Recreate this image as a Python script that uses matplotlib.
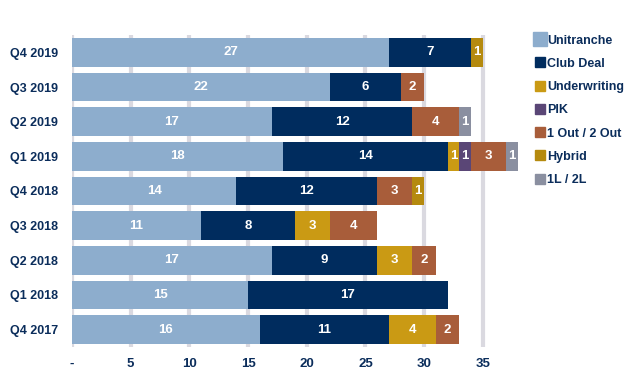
import matplotlib
matplotlib.use("Agg")
import matplotlib.pyplot as plt
from matplotlib.lines import Line2D
import numpy as np

plt.rcParams['font.family'] = ['Liberation Sans', 'DejaVu Sans']

quarters = ["Q4 2019", "Q3 2019", "Q2 2019", "Q1 2019", "Q4 2018",
            "Q3 2018", "Q2 2018", "Q1 2018", "Q4 2017"]
unitranche = [27, 22, 17, 18, 14, 11, 17, 15, 16]
club_deal = [7, 6, 12, 14, 12, 8, 9, 17, 11]
underwriting = [0, 0, 0, 1, 0, 3, 3, 0, 4]
pik = [0, 0, 0, 1, 0, 0, 0, 0, 0]
one_out_two_out = [0, 2, 4, 3, 3, 4, 2, 0, 2]
hybrid = [1, 0, 0, 0, 1, 0, 0, 0, 0]
first_second_lien = [0, 0, 1, 1, 0, 0, 0, 0, 0]

series = [
    ("Unitranche", unitranche, "#8DADCD"),
    ("Club Deal", club_deal, "#002C5E"),
    ("Underwriting", underwriting, "#CA9A14"),
    ("PIK", pik, "#5A4676"),
    ("1 Out / 2 Out", one_out_two_out, "#A85D3A"),
    ("Hybrid", hybrid, "#B58A0E"),
    ("1L / 2L", first_second_lien, "#8A8FA0"),
]
navy = "#0B2D5B"

fig = plt.figure(figsize=(6.32, 3.77), dpi=100)
ax = fig.add_axes([0.114, 0.080, 0.715, 0.827])

y = np.arange(len(quarters))
for xv in range(0, 40, 5):
    ax.axvline(xv, color="#DAD9E0", lw=3, zorder=0)

left = np.zeros(len(quarters))
for name, vals, col in series:
    vals = np.array(vals, dtype=float)
    ax.barh(y, vals, left=left, height=0.83, color=col, zorder=2)
    for yi, (l, v) in enumerate(zip(left, vals)):
        if v > 0:
            ax.text(l + v / 2, yi, f"{int(v)}", ha="center", va="center",
                    color="white", fontsize=9.5, fontweight="bold", zorder=3)
    left += vals

ax.set_ylim(len(quarters) - 0.5, -0.5)
ax.set_xlim(0, 38.5)
ax.set_yticks(y)
ax.set_yticklabels(quarters, fontsize=9, fontweight="bold", color=navy)
ax.set_xticks(range(0, 40, 5))
ax.set_xticklabels(["-"] + [str(v) for v in range(5, 40, 5)],
                   fontsize=9.5, fontweight="bold", color=navy)
ax.tick_params(length=0, pad=8)
ax.tick_params(axis="y", pad=10)
for s in ax.spines.values():
    s.set_visible(False)

handles = []
for i, (name, vals, col) in enumerate(series):
    ms = 10 if i == 0 else 6.5
    handles.append(Line2D([], [], marker="s", ls="", color=col,
                          markersize=ms, label=name))
leg = fig.legend(handles=handles, loc="upper left", bbox_to_anchor=(0.838, 0.925),
                 frameon=False, handlelength=0.6, handletextpad=0.3,
                 labelspacing=0.9, borderpad=0,
                 prop={"size": 9, "weight": "bold"})
for t in leg.get_texts():
    t.set_color(navy)

fig.savefig("out.png", dpi=100)
